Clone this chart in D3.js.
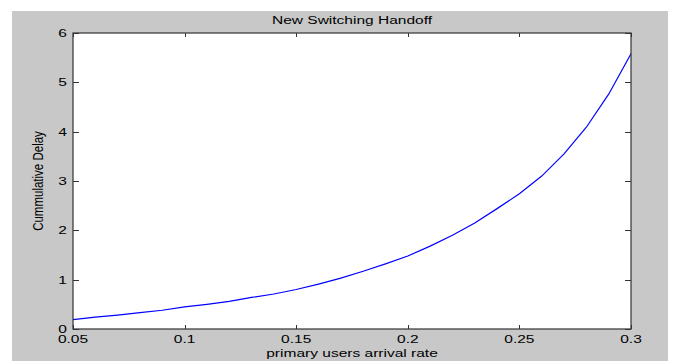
<!DOCTYPE html>
<html>
<head>
<meta charset="utf-8">
<script src="https://cdn.jsdelivr.net/npm/d3@7"></script>
<style>
html,body{margin:0;padding:0;background:#fff;}
svg{display:block;}
text{font-family:"Liberation Sans",Arial,sans-serif;fill:#000;}
</style>
</head>
<body>
<svg id="chart" width="678" height="361"></svg>
<script>
const title = "New Switching Handoff";
const xLabel = "primary users arrival rate";
const yLabel = "Cummulative Delay";
const arrivalRate = [0.05,0.06,0.07,0.08,0.09,0.10,0.11,0.12,0.13,0.14,0.15,0.16,0.17,0.18,0.19,0.20,0.21,0.22,0.23,0.24,0.25,0.26,0.27,0.28,0.29,0.30];
const delay = [0.19,0.24,0.28,0.33,0.38,0.45,0.50,0.56,0.64,0.71,0.80,0.91,1.03,1.17,1.32,1.48,1.68,1.90,2.15,2.44,2.74,3.10,3.55,4.09,4.76,5.58];
const xTicks = [0.05,0.1,0.15,0.2,0.25,0.3];
const xTickLabels = ["0.05","0.1","0.15","0.2","0.25","0.3"];
const yTicks = [0,1,2,3,4,5,6];
const yTickLabels = ["0","1","2","3","4","5","6"];

const svg = d3.select("#chart");
const L = 73, R = 631, T = 33, B = 329;
const SX = 1.35, FS = 11.5;

svg.append("rect").attr("x",12).attr("y",11).attr("width",656).attr("height",350).attr("fill","#c8c8c8");
svg.append("rect").attr("x",L).attr("y",T).attr("width",R-L).attr("height",B-T).attr("fill","#fff");

const x = d3.scaleLinear().domain([0.05,0.3]).range([L,R]);
const y = d3.scaleLinear().domain([0,6]).range([B,T]);

function txt(g, s, px, py, anchor, rot){
  return g.append("text")
    .attr("transform", `translate(${px},${py}) scale(${SX},1)` + (rot ? ` rotate(${rot})` : ""))
    .attr("text-anchor", anchor)
    .attr("font-size", FS)
    .text(s);
}

// line
const line = d3.line().x((d,i)=>x(arrivalRate[i])).y(d=>y(d));
svg.append("path").datum(delay).attr("d", line)
  .attr("fill","none").attr("stroke","#0000ff").attr("stroke-width",1.2);

// axes box
const axisColor = "#333";
const g = svg.append("g");
g.append("rect").attr("x",L).attr("y",T).attr("width",R-L).attr("height",B-T)
  .attr("fill","none").attr("stroke",axisColor).attr("stroke-width",1.2);

// x ticks (bottom & top, inward)
xTicks.forEach((t,i)=>{
  const px = Math.round(x(t))+0.5;
  g.append("line").attr("x1",px).attr("x2",px).attr("y1",B).attr("y2",B-4).attr("stroke",axisColor);
  g.append("line").attr("x1",px).attr("x2",px).attr("y1",T).attr("y2",T+4).attr("stroke",axisColor);
  txt(g, xTickLabels[i], x(t), 343, "middle");
});
// y ticks (left & right, inward)
yTicks.forEach((t,i)=>{
  const py = Math.round(y(t))+0.5;
  g.append("line").attr("x1",L).attr("x2",L+6).attr("y1",py).attr("y2",py).attr("stroke",axisColor);
  g.append("line").attr("x1",R).attr("x2",R-6).attr("y1",py).attr("y2",py).attr("stroke",axisColor);
  txt(g, yTickLabels[i], 67, y(t)+4, "end");
});

txt(svg, title, (L+R)/2, 24, "middle");
txt(svg, xLabel, (L+R)/2, 357, "middle");
txt(svg, yLabel, 43, (T+B)/2, "middle", -90);
</script>
</body>
</html>
